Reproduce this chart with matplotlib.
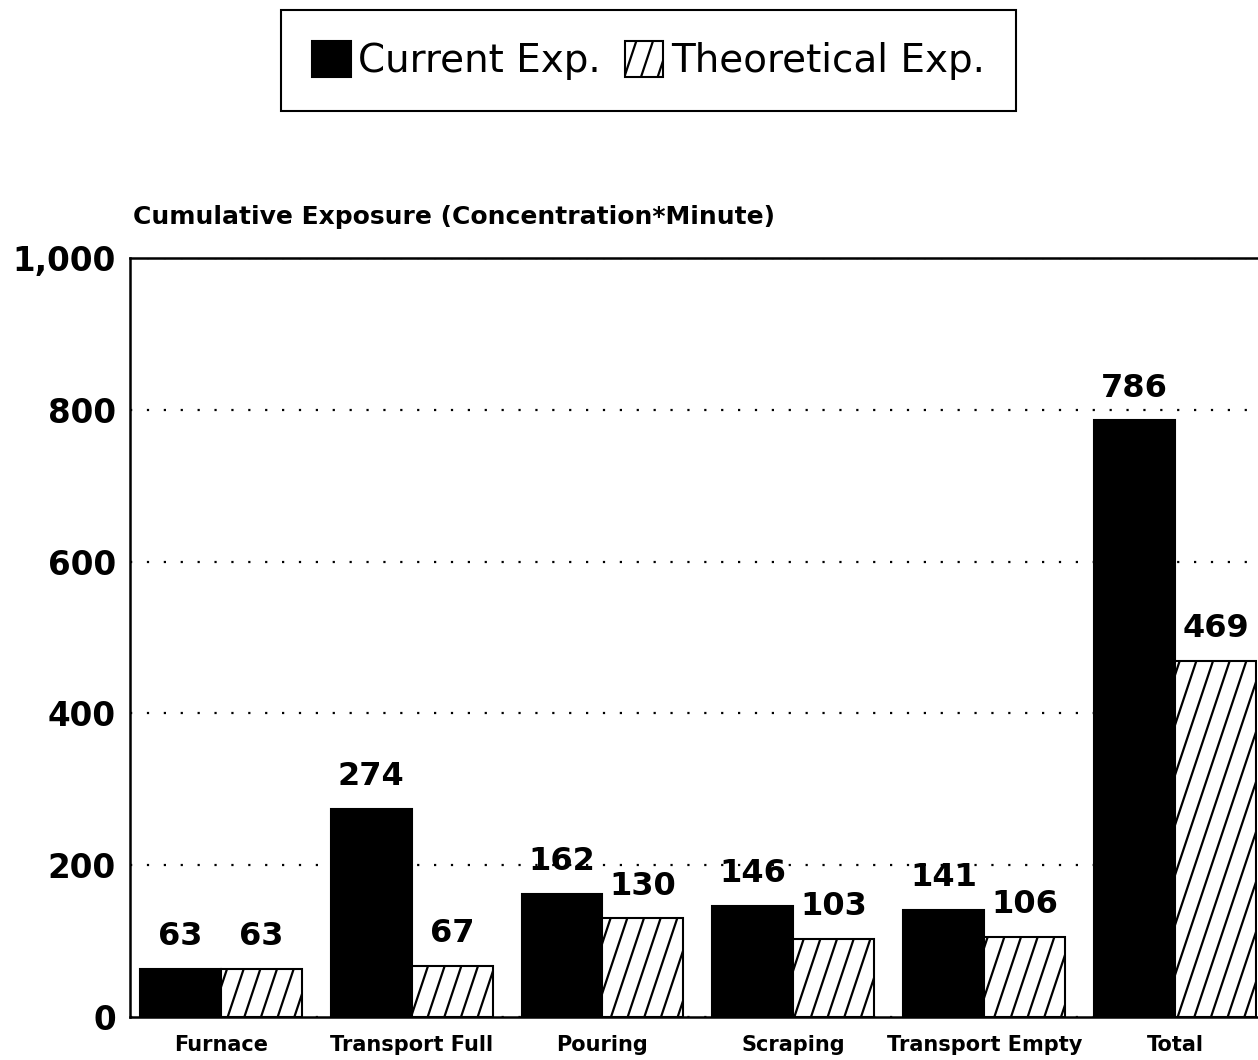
import numpy as np
import matplotlib.pyplot as plt
import matplotlib.hatch as mhatch
from matplotlib.path import Path
from matplotlib.ticker import FuncFormatter

plt.rcParams['font.family'] = ['DejaVu Sans']
plt.rcParams['hatch.linewidth'] = 1.6


# steeper "/" hatch, like the scanned original
class SteepHatch(mhatch.HatchPatternBase):
    def __init__(self, hatch, density):
        n = int(hatch.count('/') * density)
        self.offsets = np.arange(-n, n + 1) / n if n else np.array([])
        self.num_vertices = 2 * len(self.offsets)

    def set_vertices_and_codes(self, vertices, codes):
        vertices[0::2, 0] = self.offsets
        vertices[0::2, 1] = 0.0
        vertices[1::2, 0] = self.offsets + 1 / 3
        vertices[1::2, 1] = 1.0
        codes[0::2] = Path.MOVETO
        codes[1::2] = Path.LINETO


mhatch._hatch_types = [SteepHatch if h is mhatch.NorthEastHatch else h
                       for h in mhatch._hatch_types]

categories = ['Furnace', 'Transport Full', 'Pouring', 'Scraping', 'Transport Empty', 'Total']
current_exp = [63, 274, 162, 146, 141, 786]
theoretical_exp = [63, 67, 130, 103, 106, 469]

x = np.arange(len(categories))
w = 0.424

fig = plt.figure(figsize=(12.58, 10.6), dpi=100)
ax = fig.add_axes([0.1033, 0.0406, 0.8960, 0.716])

b1 = ax.bar(x - w / 2, current_exp, w, color='black', edgecolor='black',
            linewidth=1.5, label='Current Exp.', zorder=3)
b2 = ax.bar(x + w / 2, theoretical_exp, w, color='white', edgecolor='black',
            hatch='/', linewidth=1.5, label='Theoretical Exp.', zorder=3)

for bars, vals in [(b1, current_exp), (b2, theoretical_exp)]:
    for r, v in zip(bars, vals):
        ax.annotate(str(v), (r.get_x() + r.get_width() / 2, v),
                    xytext=(0, 12), textcoords='offset points',
                    ha='center', va='bottom', fontsize=23, fontweight='bold',
                    zorder=4)

ax.set_ylim(0, 1000)
ax.set_xlim(-0.476, 5.43)
ax.set_yticks([0, 200, 400, 600, 800, 1000])
ax.yaxis.set_major_formatter(FuncFormatter(lambda v, p: f'{int(v):,}'))
ax.set_xticks(x)
ax.set_xticklabels(categories, fontsize=15, fontweight='bold')
for lab in ax.get_yticklabels():
    lab.set_fontsize(23.5)
    lab.set_fontweight('bold')
ax.tick_params(axis='both', length=0)
ax.tick_params(axis='y', pad=10)
ax.tick_params(axis='x', pad=13)

ax.yaxis.grid(True, linestyle=(0, (1, 6.6)), color='black', linewidth=1.6, zorder=0)
ax.set_axisbelow(True)
for s in ['left', 'top', 'bottom']:
    ax.spines[s].set_linewidth(1.8)
ax.spines['right'].set_visible(False)

fig.text(0.106, 0.795, 'Cumulative Exposure (Concentration*Minute)',
         fontsize=18, fontweight='bold', ha='left', va='center')

leg = fig.legend(handles=[b1, b2], loc='center', bbox_to_anchor=(0.5155, 0.943),
                 ncol=2, fontsize=28, frameon=True, fancybox=False,
                 edgecolor='black', framealpha=1, handlelength=1.0,
                 handleheight=1.05, handletextpad=0.2, columnspacing=0.6,
                 borderpad=0.8)
leg.get_frame().set_linewidth(1.5)

fig.savefig('out.png', dpi=100)
